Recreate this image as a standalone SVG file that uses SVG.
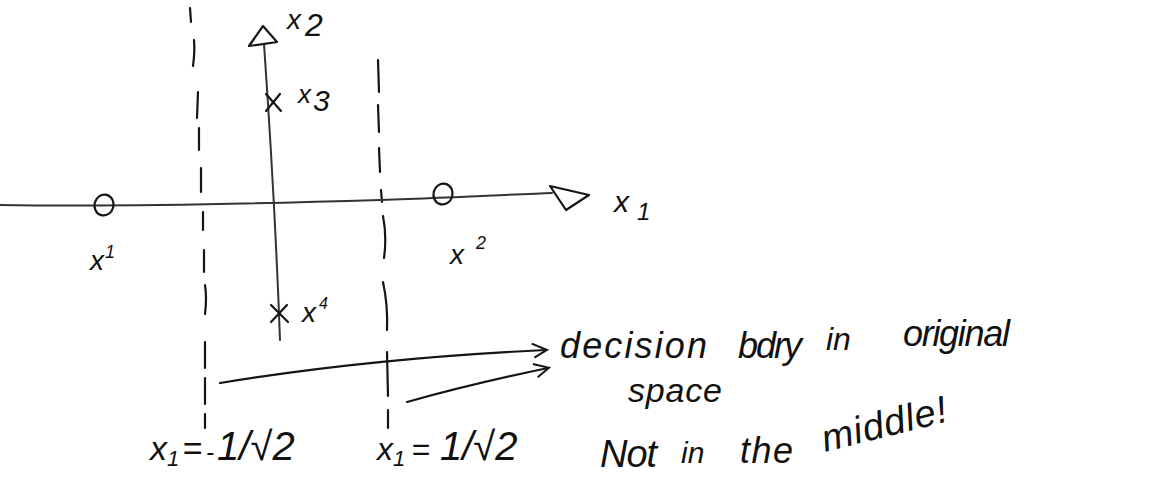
<svg xmlns="http://www.w3.org/2000/svg" width="1170" height="477" viewBox="0 0 1170 477">
<style>
.ink{fill:none;stroke:#151515;stroke-width:2.2;stroke-linecap:round;stroke-linejoin:round}
.axis{fill:none;stroke:#333333;stroke-width:2;stroke-linecap:round}
.dash{fill:none;stroke:#151515;stroke-width:2.2;stroke-linecap:round}
.hw{font-family:"Liberation Sans","DejaVu Sans",sans-serif;font-style:italic;fill:#111}
</style>
<defs>
<marker id="zhead" viewBox="0 0 20 20" refX="16" refY="10" markerWidth="20" markerHeight="20" markerUnits="userSpaceOnUse" orient="auto">
<path d="M2,3 L17,10 L4,17" fill="none" stroke="#151515" stroke-width="2"/>
</marker>
</defs>
<rect width="1170" height="477" fill="#ffffff"/>

<g id="boundary-left">
<path class="dash" d="M190,8 L191,22"/>
<path class="dash" d="M194,40 Q195,52 193,66"/>
<path class="dash" d="M198,92 L197,118"/>
<path class="dash" d="M199,128 L199,150"/>
<path class="dash" d="M201,168 L201,192"/>
<path class="dash" d="M203,212 L203,230"/>
<path class="dash" d="M204,250 L204,272"/>
<path class="dash" d="M205,285 Q207,298 205,314"/>
<path class="dash" d="M205,342 L205,368"/>
<path class="dash" d="M205,378 L205,404"/>
<path class="dash" d="M205,414 L205,428"/>
</g>
<g id="boundary-right">
<path class="dash" d="M378,60 L379,92"/>
<path class="dash" d="M378,105 L379,132"/>
<path class="dash" d="M379,148 L380,172"/>
<path class="dash" d="M381,190 L382,202"/>
<path class="dash" d="M383,216 Q387,236 384,258"/>
<path class="dash" d="M383,282 Q388,305 387,330"/>
<path class="dash" d="M387,352 L388,396"/>
<path class="dash" d="M388,410 L388,428"/>
</g>

<g id="axis-x1">
<path class="axis" d="M0,205 C120,207 250,204 380,200 C470,197 520,194 552,193"/>
<path class="ink" d="M550,186 L589,195 L566,210 Z"/>
</g>
<g id="axis-x2">
<path class="axis" d="M264,44 C270,130 276,230 280,340"/>
<path class="ink" d="M263,26 L249,46 L277,42 Z"/>
</g>

<g id="point-x1">
<ellipse class="ink" cx="104" cy="205" rx="9.5" ry="10.5" transform="rotate(15 104 205)"/>
</g>
<g id="point-x2">
<ellipse class="ink" cx="443" cy="194" rx="9.5" ry="10.5" transform="rotate(15 443 194)"/>
</g>
<g id="point-x3">
<path class="ink" d="M266,94 L281,111 M280,94 L266,111"/>
</g>
<g id="point-x4">
<path class="ink" d="M271,305 L288,322 M287,305 L271,322"/>
</g>

<g id="labels-axes">
<text class="hw" x="287" y="29" font-size="28">x<tspan font-size="32" dx="4" dy="7">2</tspan></text>
<text class="hw" x="614" y="212" font-size="30">x<tspan font-size="24" dx="8" dy="8">1</tspan></text>
</g>
<g id="labels-points">
<text class="hw" x="298" y="103" font-size="26">x<tspan font-size="30" dx="2" dy="8">3</tspan></text>
<text class="hw" x="90" y="270" font-size="28">x<tspan font-size="18" dx="1" dy="-12">1</tspan></text>
<text class="hw" x="450" y="264" font-size="28">x<tspan font-size="18" dx="12" dy="-15">2</tspan></text>
<text class="hw" x="302" y="322" font-size="28">x<tspan font-size="16" dx="3" dy="-13">4</tspan></text>
</g>

<g id="connectors">
<path class="ink" d="M220,383 C330,365 440,355 546,350" marker-end="url(#zhead)"/>
<path class="ink" d="M407,402 C450,390 500,378 548,368" marker-end="url(#zhead)"/>
</g>

<g id="label-boundary">
<text class="hw" x="560" y="358" font-size="36" textLength="147" lengthAdjust="spacing">decision</text>
<text class="hw" x="738" y="358" font-size="36" textLength="64" lengthAdjust="spacing">bdry</text>
<text class="hw" x="826" y="350" font-size="32">in</text>
<text class="hw" x="903" y="346" font-size="36" textLength="107" lengthAdjust="spacing">original</text>
<text class="hw" x="628" y="402" font-size="34" textLength="94" lengthAdjust="spacing">space</text>
</g>
<g id="label-note">
<text class="hw" x="600" y="467" font-size="38" textLength="57" lengthAdjust="spacing">Not</text>
<text class="hw" x="681" y="463" font-size="30">in</text>
<text class="hw" x="740" y="463" font-size="36" textLength="53" lengthAdjust="spacing">the</text>
<text class="hw" x="825" y="452" font-size="38" textLength="128" lengthAdjust="spacing" transform="rotate(-14 825 452)">middle!</text>
</g>

<g id="label-bound-values">
<text class="hw" x="150" y="460" font-size="34">x<tspan font-size="22" dy="6">1</tspan><tspan dy="-6" dx="3">=</tspan><tspan font-size="24" dx="4">-</tspan><tspan font-size="40" dx="3">1/√2</tspan></text>
<text class="hw" x="377" y="460" font-size="32">x<tspan font-size="22" dy="6">1</tspan><tspan dy="-6" dx="6">=</tspan><tspan font-size="40" dx="10">1/√2</tspan></text>
</g>
</svg>
